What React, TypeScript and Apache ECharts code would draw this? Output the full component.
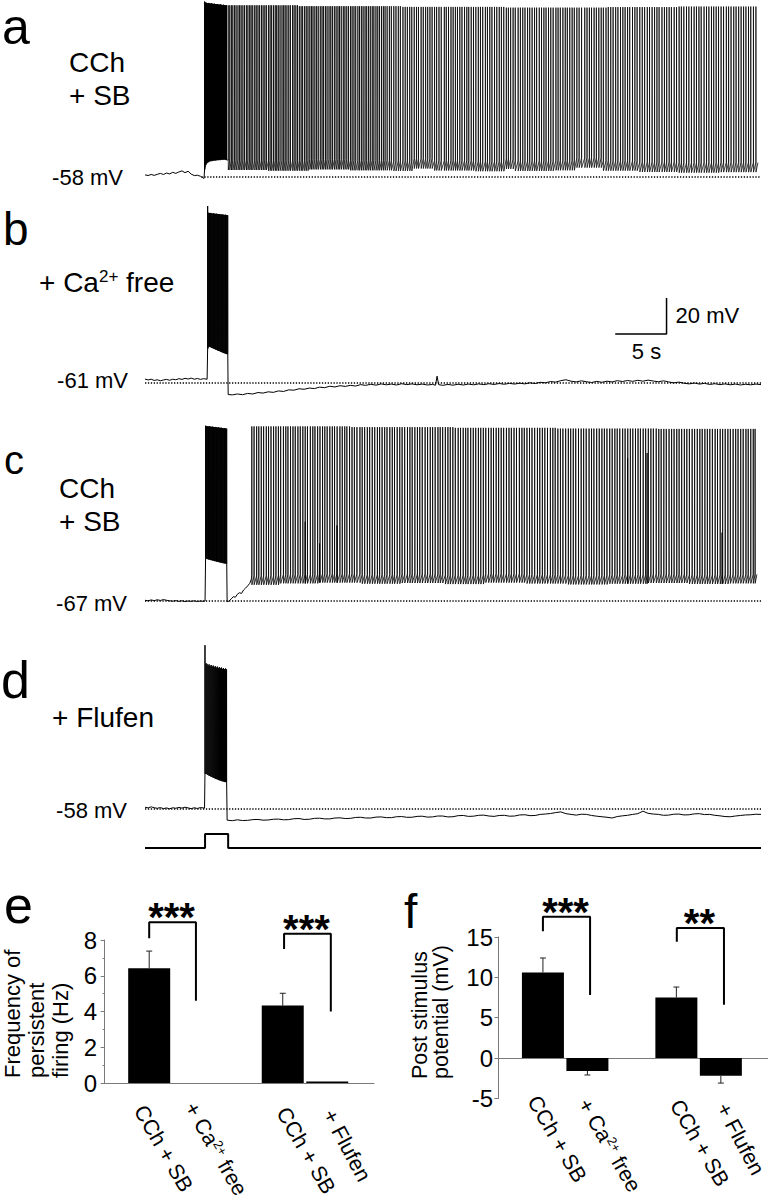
import React, { useEffect, useRef } from "react";
import * as echarts from "echarts";

const FONT = "'Liberation Sans', Arial, Helvetica, sans-serif";

// ---------------- traces (time in s, membrane potential in mV) ----------------
const T_MAX = 60;
const REST_A = -58;
const REST_B = -61;
const REST_C = -67;
const REST_D = -58;
const REST_LABELS = ["-58 mV", "-61 mV", "-67 mV", "-58 mV"];

// stimulus step (arbitrary units 0/1)
const STIMULUS = [[0, 0], [5.85, 0], [5.85, 1], [8.1, 1], [8.1, 0], [60, 0]];

// panel a
const PRE_A = [[0,-56.8],[0.3,-57.2],[0.6,-56.6],[0.9,-57.1],[1.2,-56.5],[1.5,-56.0],[1.8,-56.6],[2.1,-55.8],[2.4,-56.3],[2.7,-55.4],[3.0,-56.0],[3.3,-55.2],[3.6,-54.6],[3.9,-55.6],[4.2,-54.8],[4.5,-56.4],[4.8,-57.2],[5.1,-57.0],[5.4,-57.6],[5.6,-58.3],[5.75,-58.8]];
// burst spikes: [t, peak, trough]
const BURST_A = [[5.80,39.5,-54.0],[5.90,39.0,-51.5],[5.99,38.8,-50.5],[6.09,38.6,-50.0],[6.19,38.7,-49.6],[6.28,38.5,-49.3],[6.38,38.4,-49.1],[6.48,38.5,-49.0],[6.57,38.3,-48.9],[6.67,38.2,-48.8],[6.77,38.3,-48.7],[6.86,38.1,-48.7],[6.96,38.0,-48.6],[7.06,38.1,-48.5],[7.15,37.9,-48.5],[7.25,37.8,-48.4],[7.35,37.9,-48.4],[7.44,37.7,-48.3],[7.54,37.6,-48.3],[7.64,37.7,-48.2],[7.73,37.5,-48.2],[7.83,37.4,-48.3],[7.93,37.5,-48.5]];
const FIRST_SPIKE_A = 8.1;
// inter-spike intervals of persistent firing (units of 10 ms)
const ISI_A = [
  15,16,14,17,15,18,16,15,17,16, 18,15,17,14,16,19,15,17,16,18, 16,17,15,20,16,15,18,17,14,16,
  17,19,16,15,17,18,16,21,15,17, 16,18,17,15,19,16,17,18,16,15, 18,17,16,20,17,15,18,16,19,17,
  16,19,17,18,15,17,20,16,18,17, 19,16,18,17,21,16,18,17,19,16, 18,17,19,16,20,18,17,19,18,17,
  20,22,19,24,21,23,20,25,22,21, 23,20,24,22,19,26,21,23,20,22, 21,24,20,23,22,30,19,22,24,21,
  22,20,23,21,25,22,19,24,22,23, 24,21,22,26,20,23,21,25,22,24, 21,23,25,20,22,24,21,28,22,23,
  22,25,21,23,24,20,26,22,23,21, 24,22,23,27,21,22,25,23,20,24, 23,21,25,22,24,31,22,23,21,25,
  22,24,23,21,26,22,24,23,25,22, 25,23,22,24,21,27,23,22,26,24, 23,26,22,25,24,23,21,28,24,22,
  24,22,27,23,25,22,24,26,23,25, 26,23,24,22,28,24,23,25,22,24, 23,25,24,27,22,24,26,23,25,24,
  24,23,25,22,26,24
];
// inter-spike level (step values from the given time on)
const THR_A = [[8,-48.6],[12,-49.0],[16,-48.3],[20,-48.8],[24,-49.1],[26,-47.8],[28,-48.9],[32,-49.3],[35,-48.0],[36,-49.1],[40,-48.8],[42,-47.3],[44.5,-49.0],[48,-49.7],[52,-50.1],[56,-49.8]];
const PEAK_A = [[8,37.4],[15,36.9],[25,36.5],[35,36.1],[45,36.4],[52,36.7]];
const AHP_A = 5.5;
const END_A = [[59.7, -50.0]];

// panel b
const PRE_B = [[0,-58.8],[0.3,-59.3],[0.6,-58.9],[0.9,-59.6],[1.2,-59.2],[1.5,-59.8],[1.8,-59.3],[2.1,-59.0],[2.4,-59.5],[2.7,-58.9],[3.0,-59.2],[3.3,-58.6],[3.6,-59.0],[3.9,-58.4],[4.2,-58.8],[4.5,-58.3],[4.8,-58.9],[5.1,-58.5],[5.4,-59.0],[5.7,-58.6],[6.05,-58.9]];
const BURST_B = [[6.10,37.3,-42.0],[6.20,33.6,-40.6],[6.29,33.4,-40.8],[6.39,33.5,-41.0],[6.49,33.3,-41.3],[6.59,33.2,-41.5],[6.68,33.3,-41.8],[6.78,33.1,-42.0],[6.88,33.0,-42.3],[6.98,33.1,-42.5],[7.07,32.9,-42.8],[7.17,32.8,-43.0],[7.27,32.9,-43.2],[7.37,32.7,-43.5],[7.46,32.6,-43.7],[7.56,32.7,-44.0],[7.66,32.5,-44.2],[7.76,32.4,-44.4],[7.85,32.5,-44.6],[7.95,32.3,-44.8],[8.05,32.2,-45.0]];
const POST_B = [[8.1,-67.4],[8.5,-67.6],[9,-67.1],[9.5,-67.5],[10,-66.8],[10.5,-67.1],[11,-66.3],[11.5,-66.6],[12,-65.9],[12.5,-66.2],[13,-65.4],[13.5,-65.7],[14,-64.8],[14.5,-65.0],[15,-64.2],[15.5,-64.5],[16,-63.8],[16.5,-64.1],[17,-63.3],[17.5,-63.6],[18,-62.8],[18.5,-63.2],[19,-62.5],[19.5,-62.9],[20,-62.3],[20.5,-62.7],[21,-61.9],[21.5,-62.3],[22,-61.7],[22.5,-62.2],[23,-61.5],[23.5,-62.0],[24,-61.6],[24.5,-62.1],[25,-61.4],[25.5,-61.9],[26,-61.5],[26.5,-62.0],[27,-61.6],[27.5,-62.1],[28,-61.8],[28.3,-62.2],[28.45,-57.2],[28.6,-61.9],[29,-62.3],[29.5,-61.8],[30,-62.2],[30.5,-61.7],[31,-62.1],[31.5,-61.6],[32,-62.0],[32.5,-61.5],[33,-61.9],[33.5,-61.4],[34,-61.8],[34.5,-61.3],[35,-61.7],[35.5,-61.2],[36,-61.6],[36.5,-61.1],[37,-61.5],[37.5,-60.9],[38,-61.3],[38.5,-60.6],[39,-60.9],[39.5,-60.2],[40,-60.5],[40.5,-59.7],[41,-59.2],[41.5,-60.0],[42,-60.4],[42.5,-59.8],[43,-60.3],[43.5,-60.7],[44,-60.1],[44.5,-60.6],[45,-60.0],[45.5,-60.4],[46,-59.7],[46.5,-60.2],[47,-59.6],[47.5,-60.1],[48,-59.5],[48.5,-60.0],[49,-59.4],[49.5,-59.9],[50,-60.3],[50.5,-59.8],[51,-60.4],[51.5,-60.9],[52,-60.5],[52.5,-61.1],[53,-61.5],[53.5,-61.0],[54,-61.6],[54.5,-61.2],[55,-61.8],[55.5,-61.4],[56,-61.9],[56.5,-61.5],[57,-62.0],[57.5,-61.6],[58,-62.1],[58.5,-61.7],[59,-62.0],[59.5,-61.6],[60,-61.9]];

// panel c
const PRE_C = [[0,-66.6],[0.3,-66.9],[0.6,-66.4],[0.9,-66.8],[1.2,-66.3],[1.5,-66.7],[1.8,-66.2],[2.1,-66.6],[2.4,-66.9],[2.7,-67.1],[3.0,-66.8],[3.3,-67.2],[3.6,-66.9],[3.9,-67.3],[4.2,-67.0],[4.5,-67.2],[4.8,-66.9],[5.1,-67.3],[5.4,-67.0],[5.7,-67.2],[5.85,-67.0]];
const BURST_C = [[5.90,30.4,-43.5],[6.00,30.2,-43.4],[6.10,30.1,-43.6],[6.19,30.0,-43.8],[6.29,30.1,-43.9],[6.39,29.9,-44.1],[6.49,29.8,-44.2],[6.58,29.9,-44.4],[6.68,29.7,-44.5],[6.78,29.6,-44.7],[6.88,29.7,-44.8],[6.97,29.5,-45.0],[7.07,29.4,-45.1],[7.17,29.5,-45.2],[7.27,29.3,-45.4],[7.36,29.2,-45.5],[7.46,29.3,-45.6],[7.56,29.1,-45.8],[7.66,29.0,-45.9],[7.75,29.1,-46.0],[7.85,28.9,-46.1],[7.95,28.8,-46.3]];
const RAMP_C = [[8.0,-67.4],[8.2,-67.0],[8.4,-65.8],[8.6,-64.6],[8.8,-64.9],[9.0,-63.2],[9.2,-62.4],[9.4,-62.8],[9.6,-60.9],[9.8,-59.8],[10.0,-58.6],[10.2,-57.2],[10.35,-55.0]];
const FIRST_SPIKE_C = 10.4;
const ISI_C = [
  22,25,21,24,23,26,22,24,25,23, 24,22,27,23,21,25,24,22,26,23, 25,23,22,28,24,21,26,23,25,22,
  23,26,24,22,25,27,23,24,21,26, 24,23,25,29,22,24,26,23,25,24, 26,22,24,25,23,27,24,22,26,25,
  23,25,27,24,22,26,25,23,24,28, 24,26,23,25,27,22,24,26,25,23, 25,24,28,23,26,24,22,27,25,24,
  26,23,25,24,27,25,23,26,24,25, 24,27,25,23,26,24,28,25,23,26, 25,24,26,27,23,25,24,26,28,24,
  23,26,25,24,27,26,23,25,24,27, 26,24,25,28,24,23,27,25,26,24, 25,27,24,26,23,25,28,24,26,25,
  24,26,25,23,27,24,26,25,24,28, 25,23,26,24,27,25,24,26,23,25, 26,24,25,27,24,26,25,23,26,24,
  24,25,27,23,26,24,25,26,24,27, 25,23,26,24,27,22,25,24,18
];
const THR_C = [[10.4,-53.0],[13,-52.2],[17,-51.8],[21,-52.4],[25,-52.0],[29,-52.6],[33,-51.8],[37,-52.3],[41,-52.8],[45,-52.4],[49,-52.0],[53,-52.5],[57,-52.2]];
const PEAK_C = [[10.4,30.0],[20,29.6],[30,29.2],[40,28.8],[50,28.6]];
const AHP_C = 5;
// incomplete spikes: [t, peak]
const SPIKELETS_C = [[15.6,-23],[17.0,-35],[18.7,-25],[47.0,12.4],[48.9,15.2],[56.2,-29]];
const END_C = [[59.6, -52.2]];

// panel d
const PRE_D = [[0,-57.0],[0.3,-57.4],[0.6,-56.8],[0.9,-57.3],[1.2,-57.6],[1.5,-57.2],[1.8,-57.8],[2.1,-57.4],[2.4,-57.9],[2.7,-57.3],[3.0,-57.6],[3.3,-57.1],[3.6,-57.5],[3.9,-57.0],[4.2,-57.4],[4.5,-57.8],[4.8,-57.3],[5.1,-57.7],[5.4,-57.2],[5.8,-57.5]];
const BURST_D = [[5.84,33.0,-38.5],[5.94,23.0,-38.2],[6.04,22.6,-38.6],[6.14,21.8,-39.0],[6.24,22.4,-39.3],[6.34,21.5,-39.6],[6.44,22.0,-39.9],[6.54,21.2,-40.2],[6.64,21.7,-40.4],[6.74,20.9,-40.7],[6.84,21.4,-41.0],[6.94,20.6,-41.2],[7.04,21.1,-41.4],[7.14,20.4,-41.7],[7.24,20.8,-41.9],[7.34,20.2,-42.1],[7.44,20.6,-42.3],[7.54,19.9,-42.5],[7.64,20.3,-42.6],[7.74,19.7,-42.8],[7.84,20.1,-42.9],[7.94,19.6,-43.0]];
const POST_D = [[8.0,-64.2],[8.5,-64.5],[9,-64.0],[9.5,-64.4],[10,-64.3],[10.5,-63.9],[11,-63.8],[11.5,-64.2],[12,-64.1],[12.5,-63.7],[13,-63.6],[13.5,-64.0],[14,-63.9],[14.5,-63.4],[15,-63.3],[15.5,-63.8],[16,-63.7],[16.5,-63.2],[17,-63.1],[17.5,-63.5],[18,-63.5],[18.5,-63.0],[19,-62.9],[19.5,-63.3],[20,-63.2],[20.5,-62.7],[21,-62.6],[21.5,-63.0],[22,-63.0],[22.5,-62.5],[23,-62.4],[23.5,-62.8],[24,-62.8],[24.5,-62.3],[25,-62.2],[25.5,-62.6],[26,-62.6],[26.5,-62.1],[27,-62.0],[27.5,-62.5],[28,-62.4],[28.5,-61.9],[29,-61.9],[29.5,-62.4],[30,-62.3],[30.5,-61.7],[31,-61.6],[31.5,-62.1],[32,-62.0],[32.5,-61.5],[33,-61.4],[33.5,-61.9],[34,-62.1],[34.5,-61.6],[35,-61.5],[35.5,-62.0],[36,-61.9],[36.5,-61.3],[37,-61.2],[37.5,-61.7],[38,-61.6],[38.5,-61.0],[39,-60.8],[39.5,-60.5],[40,-60.0],[40.5,-59.6],[41,-60.6],[41.5,-61.0],[42,-61.4],[42.5,-60.9],[43,-61.0],[43.5,-61.6],[44,-62.0],[44.5,-62.3],[45,-62.6],[45.5,-63.0],[46,-62.2],[46.5,-61.8],[47,-61.5],[47.5,-61.0],[48,-60.6],[48.5,-59.2],[49,-60.4],[49.5,-60.8],[50,-61.0],[50.5,-61.5],[51,-61.4],[51.5,-60.9],[52,-60.8],[52.5,-61.3],[53,-61.2],[53.5,-60.7],[54,-60.6],[54.5,-61.1],[55,-61.0],[55.5,-61.5],[56,-61.8],[56.5,-62.2],[57,-62.3],[57.5,-61.9],[58,-61.6],[58.5,-61.3],[59,-61.2],[59.5,-60.9],[60,-61.0]];

// scale bar (drawn in panel b coordinates)
const SCALE_S = 5;
const SCALE_MV = 20;
const SCALE_CORNER = [50.8, -33.8];

// ---------------- bar charts ----------------
const BAR_X = [1, 2, 4, 5];
const BAR_CATS = ["CCh + SB", "+ Ca{sup|2+} free", "CCh + SB", "+ Flufen"];
const E_MEAN = [6.42, 0, 4.33, 0.08];
const E_SEM = [0.96, 0, 0.69, 0];
const F_MEAN = [10.6, -1.6, 7.5, -2.2];
const F_SEM = [1.8, 0.5, 1.3, 0.9];
// brackets: [xLeft, yLeftEnd, yTop, xRight, yRightEnd]
const E_BRACKETS = [[1, 8.1, 9.0, 2.05, 4.6], [4.03, 7.5, 8.35, 5.08, 4.0]];
const E_STARS = ["***", "***"];
const F_BRACKETS = [[1.0, 15.7, 17.5, 2.06, 7.8], [4.01, 14.4, 16.1, 5.07, 6.6]];
const F_STARS = ["***", "**"];
const E_YNAME = ["Frequency of", "persistent", "firing (Hz)"];
const F_YNAME = ["Post stimulus", "potential (mV)"];

// ---------------- layout ----------------
const PX_PER_MV = 1.8;
const TRACE_LEFT = 145;
const TRACE_WIDTH = 616;
const TRACE_LAYOUT = [
  // [rest, restPx, yMax, yMin]
  [REST_A, 177, 40, -66],
  [REST_B, 383, 40, -72],
  [REST_C, 601, 35, -75],
  [REST_D, 809, 40, -68],
];

function stepAt(steps: number[][], t: number) {
  let v = steps[0][1];
  for (const s of steps) {
    if (t >= s[0]) v = s[1];
    else break;
  }
  return v;
}

function spikeTimes(first: number, isis: number[]) {
  const out = [first];
  let t = first;
  for (const d of isis) {
    t += d / 100;
    out.push(Math.round(t * 1000) / 1000);
  }
  return out;
}

function burstPoints(burst: number[][]) {
  const p: number[][] = [];
  for (const [t, pk, tr] of burst) p.push([t, tr], [t + 0.004, pk], [t + 0.012, tr]);
  return p;
}

function persistentPoints(events: number[][], thr: number[][], ahp: number) {
  const p: number[][] = [];
  for (const [t, pk] of events) {
    const th = stepAt(thr, t);
    p.push([t, th], [t + 0.004, pk], [t + 0.012, th - ahp]);
  }
  return p;
}

// returns [main trace, persistent-firing part] for each panel
function buildTraces() {
  const eventsA = spikeTimes(FIRST_SPIKE_A, ISI_A).map((t) => [t, stepAt(PEAK_A, t)]);
  const aMain = [...PRE_A, ...burstPoints(BURST_A)];
  const aPers = [aMain[aMain.length - 1], ...persistentPoints(eventsA, THR_A, AHP_A), ...END_A];
  const b = [...PRE_B, ...burstPoints(BURST_B), ...POST_B];
  const eventsC = spikeTimes(FIRST_SPIKE_C, ISI_C)
    .map((t) => [t, stepAt(PEAK_C, t)])
    .concat(SPIKELETS_C.map((s) => [s[0], s[1]]))
    .sort((x, y) => x[0] - y[0]);
  const cMain = [...PRE_C, ...burstPoints(BURST_C), ...RAMP_C];
  const cPers = [cMain[cMain.length - 1], ...persistentPoints(eventsC, THR_C, AHP_C), ...END_C];
  const d = [...PRE_D, ...burstPoints(BURST_D), ...POST_D];
  return [[aMain, aPers], [b, null], [cMain, cPers], [d, null]];
}

function buildOption() {
  const traces = buildTraces();
  const grids: any[] = [];
  const xAxes: any[] = [];
  const yAxes: any[] = [];
  const series: any[] = [];
  const dotStart = [5.5, 0, 0, 0];
  const persWidth = [0.75, 0, 0.8, 0];

  TRACE_LAYOUT.forEach(([rest, restPx, yMax, yMin], i) => {
    const top = restPx - (yMax - rest) * PX_PER_MV;
    grids.push({ left: TRACE_LEFT, width: TRACE_WIDTH, top, height: (yMax - yMin) * PX_PER_MV, outerBoundsMode: "none" });
    xAxes.push({ gridIndex: i, type: "value", min: 0, max: T_MAX, show: false });
    yAxes.push({ gridIndex: i, type: "value", min: yMin, max: yMax, show: false });
    series.push({
      type: "line", xAxisIndex: i, yAxisIndex: i, silent: true, symbol: "none", showSymbol: false, clip: false, z: 2,
      data: [[dotStart[i], rest], [T_MAX, rest]],
      lineStyle: { color: "#000", width: 1.3, type: [1.3, 1.6] },
    });
    series.push({
      type: "line", xAxisIndex: i, yAxisIndex: i, silent: true, symbol: "none", showSymbol: false, clip: false, z: 3,
      data: traces[i][0], lineStyle: { color: "#000", width: 1 },
    });
    if (traces[i][1]) {
      series.push({
        type: "line", xAxisIndex: i, yAxisIndex: i, silent: true, symbol: "none", showSymbol: false, clip: false, z: 3,
        data: traces[i][1], lineStyle: { color: "#000", width: persWidth[i] },
      });
    }
  });

  // stimulus grid (index 4)
  grids.push({ left: TRACE_LEFT, width: TRACE_WIDTH, top: 834, height: 14, outerBoundsMode: "none" });
  xAxes.push({ gridIndex: 4, type: "value", min: 0, max: T_MAX, show: false });
  yAxes.push({ gridIndex: 4, type: "value", min: 0, max: 1, show: false });
  series.push({
    type: "line", xAxisIndex: 4, yAxisIndex: 4, silent: true, symbol: "none", clip: false,
    data: STIMULUS, lineStyle: { color: "#000", width: 2 },
  });

  // scale bar in panel b
  series.push({
    type: "line", xAxisIndex: 1, yAxisIndex: 1, silent: true, symbol: "none", clip: false,
    data: [[SCALE_CORNER[0] - SCALE_S, SCALE_CORNER[1]], SCALE_CORNER, [SCALE_CORNER[0], SCALE_CORNER[1] + SCALE_MV]],
    lineStyle: { color: "#000", width: 1.5 },
  });

  const axisGrey = "#7a7a7a";
  const barAxisY = (gi: number, min: number, max: number, interval: number, minor: boolean) => ({
    gridIndex: gi, type: "value", min, max, interval,
    axisLine: { show: true, lineStyle: { color: axisGrey, width: 1 } },
    axisTick: { show: true, length: 4, lineStyle: { color: axisGrey } },
    minorTick: { show: minor, splitNumber: 2, length: 2, lineStyle: { color: axisGrey } },
    axisLabel: { fontSize: 24, fontFamily: FONT, color: "#000", margin: 5 },
    splitLine: { show: false },
    minorSplitLine: { show: false },
  });
  const barAxisX = (gi: number, min: number, max: number) => ({
    gridIndex: gi, type: "value", min, max,
    axisLine: { show: true, onZero: true, lineStyle: { color: axisGrey, width: 1 } },
    axisTick: { show: false }, axisLabel: { show: false }, splitLine: { show: false },
  });

  // e (index 5)
  grids.push({ left: 102, top: 940, width: 272, height: 143, outerBoundsMode: "none" });
  xAxes.push(barAxisX(5, -0.06, 6.05));
  yAxes.push(barAxisY(5, 0, 8, 2, true));
  // f (index 6)
  grids.push({ left: 498, top: 937, width: 270, height: 161.4, outerBoundsMode: "none" });
  xAxes.push(barAxisX(6, -0.01, 6.06));
  yAxes.push(barAxisY(6, -5, 15, 5, false));

  const errRender = (params: any, api: any) => {
    const x = api.value(0);
    const p1 = api.coord([x, api.value(1)]);
    const p2 = api.coord([x, api.value(2)]);
    return {
      type: "group",
      children: [
        { type: "line", shape: { x1: p1[0], y1: p1[1], x2: p2[0], y2: p2[1] }, style: { stroke: "#222", lineWidth: 1 } },
        { type: "line", shape: { x1: p2[0] - 3, y1: p2[1], x2: p2[0] + 3, y2: p2[1] }, style: { stroke: "#222", lineWidth: 1 } },
      ],
    };
  };

  const addBars = (gi: number, mean: number[], sem: number[], brackets: number[][]) => {
    series.push({
      type: "bar", xAxisIndex: gi, yAxisIndex: gi, silent: true, barWidth: 42,
      data: BAR_X.map((x, k) => [x, mean[k]]), itemStyle: { color: "#000" }, z: 3,
    });
    series.push({
      type: "custom", xAxisIndex: gi, yAxisIndex: gi, silent: true, z: 4,
      renderItem: errRender,
      data: BAR_X.map((x, k) => [x, mean[k], mean[k] + Math.sign(mean[k]) * sem[k]]).filter((r, k) => sem[k] > 0),
      encode: { x: 0, y: [1, 2] },
    });
    brackets.forEach(([xl, yl, yt, xr, yr]) => {
      series.push({
        type: "line", xAxisIndex: gi, yAxisIndex: gi, silent: true, symbol: "none", clip: false, z: 5,
        data: [[xl, yl], [xl, yt], [xr, yt], [xr, yr]], lineStyle: { color: "#000", width: 2 },
      });
    });
  };
  addBars(5, E_MEAN, E_SEM, E_BRACKETS);
  addBars(6, F_MEAN, F_SEM, F_BRACKETS);

  return { animation: false, backgroundColor: "#fff", grid: grids, xAxis: xAxes, yAxis: yAxes, series };
}

function txt(text: string, x: number, y: number, size: number, opts: any = {}) {
  const align = opts.align || "left";
  const style: any = {
    text, fontSize: size, fontFamily: FONT, fill: "#000",
    align, textAlign: align, verticalAlign: "middle", textVerticalAlign: "middle",
  };
  if (opts.bold) style.fontWeight = "bold";
  if (opts.rich) style.rich = opts.rich;
  return { type: "text", x, y, rotation: opts.rotation || 0, z: 100, silent: true, style };
}

const supRich = (size: number) => ({
  sup: { fontSize: size, fontFamily: FONT, fill: "#000", color: "#000", verticalAlign: "top" },
});

// text placement (layout)
const LETTER_POS = [[2, 27, 50], [3, 229, 46], [4, 460, 40], [1, 680, 52], [4, 905, 52], [404, 911, 48]];
const LETTERS = ["a", "b", "c", "d", "e", "f"];
const TRACE_LABELS = [["CCh", 69, 62], ["+ SB", 69, 95], ["+ Ca{sup|2+} free", 39, 282], ["CCh", 59, 488], ["+ SB", 59, 521], ["+ Flufen", 52, 717]];
const REST_LABEL_X = [123, 128, 127, 127];
const REST_LABEL_DY = [0.7, -2.3, 2, 1];
const LABEL_DX = [-10, -4, -1, 1];
const LABEL_DY_E = [24, 21, 26, 28];
const LABEL_DY_F = [-1, 2, 3, 6];
const LABEL_ROT = [-60, -60, -60, -62];

function buildGraphics(chart: any) {
  const px = (g: number, p: number[]) => chart.convertToPixel({ gridIndex: g }, p) as number[];
  const items: any[] = [];
  LETTERS.forEach((l, i) => items.push(txt(l, LETTER_POS[i][0], LETTER_POS[i][1], LETTER_POS[i][2])));
  TRACE_LABELS.forEach(([t, x, y]: any) => items.push(txt(t, x, y, 28, { rich: supRich(17) })));
  TRACE_LAYOUT.forEach(([rest], i) => {
    const p = px(i, [0, rest]);
    items.push(txt(REST_LABELS[i], REST_LABEL_X[i], p[1] + REST_LABEL_DY[i], 22, { align: "right" }));
  });
  const corner = px(1, SCALE_CORNER);
  items.push(txt(SCALE_MV + " mV", corner[0] + 9, corner[1] - 18.3, 22));
  items.push(txt(SCALE_S + " s", corner[0] - 20, corner[1] + 17, 22, { align: "center" }));

  // bar panels
  const starsFor = (gi: number, brackets: number[][], stars: string[]) => {
    brackets.forEach(([xl, , yt, xr], k) => {
      const p = px(gi, [(xl + xr) / 2, yt]);
      items.push(txt(stars[k], p[0] - 1, p[1] - 5, 40, { align: "center", bold: true }));
    });
  };
  starsFor(5, E_BRACKETS, E_STARS);
  starsFor(6, F_BRACKETS, F_STARS);

  const catLabels = (gi: number, yBase: number, dy: number[]) => {
    BAR_X.forEach((x, k) => {
      const p = px(gi, [x, yBase]);
      items.push(
        txt(BAR_CATS[k], p[0] + LABEL_DX[k], p[1] + dy[k], 21.5, {
          rotation: (LABEL_ROT[k] * Math.PI) / 180,
          rich: supRich(13),
        })
      );
    });
  };
  catLabels(5, 0, LABEL_DY_E);
  catLabels(6, -5, LABEL_DY_F);

  const nameX_E = [12.5, 36.5, 60.5];
  E_YNAME.forEach((n, k) => items.push(txt(n, nameX_E[k], 1078, 22, { rotation: Math.PI / 2 })));
  const nameX_F = [420, 441];
  F_YNAME.forEach((n, k) => items.push(txt(n, nameX_F[k], 1079, 21.5, { rotation: Math.PI / 2 })));
  return items;
}

export default function App() {
  const ref = useRef<HTMLDivElement>(null);
  useEffect(() => {
    const el = ref.current;
    if (!el) return;
    const chart = echarts.init(el, null, { renderer: "svg" });
    chart.setOption(buildOption());
    chart.setOption({ graphic: buildGraphics(chart) });
    return () => chart.dispose();
  }, []);
  return (
    <div
      ref={ref}
      style={{ position: "absolute", left: 0, top: 0, width: 768, height: 1200, background: "#fff" }}
    />
  );
}
